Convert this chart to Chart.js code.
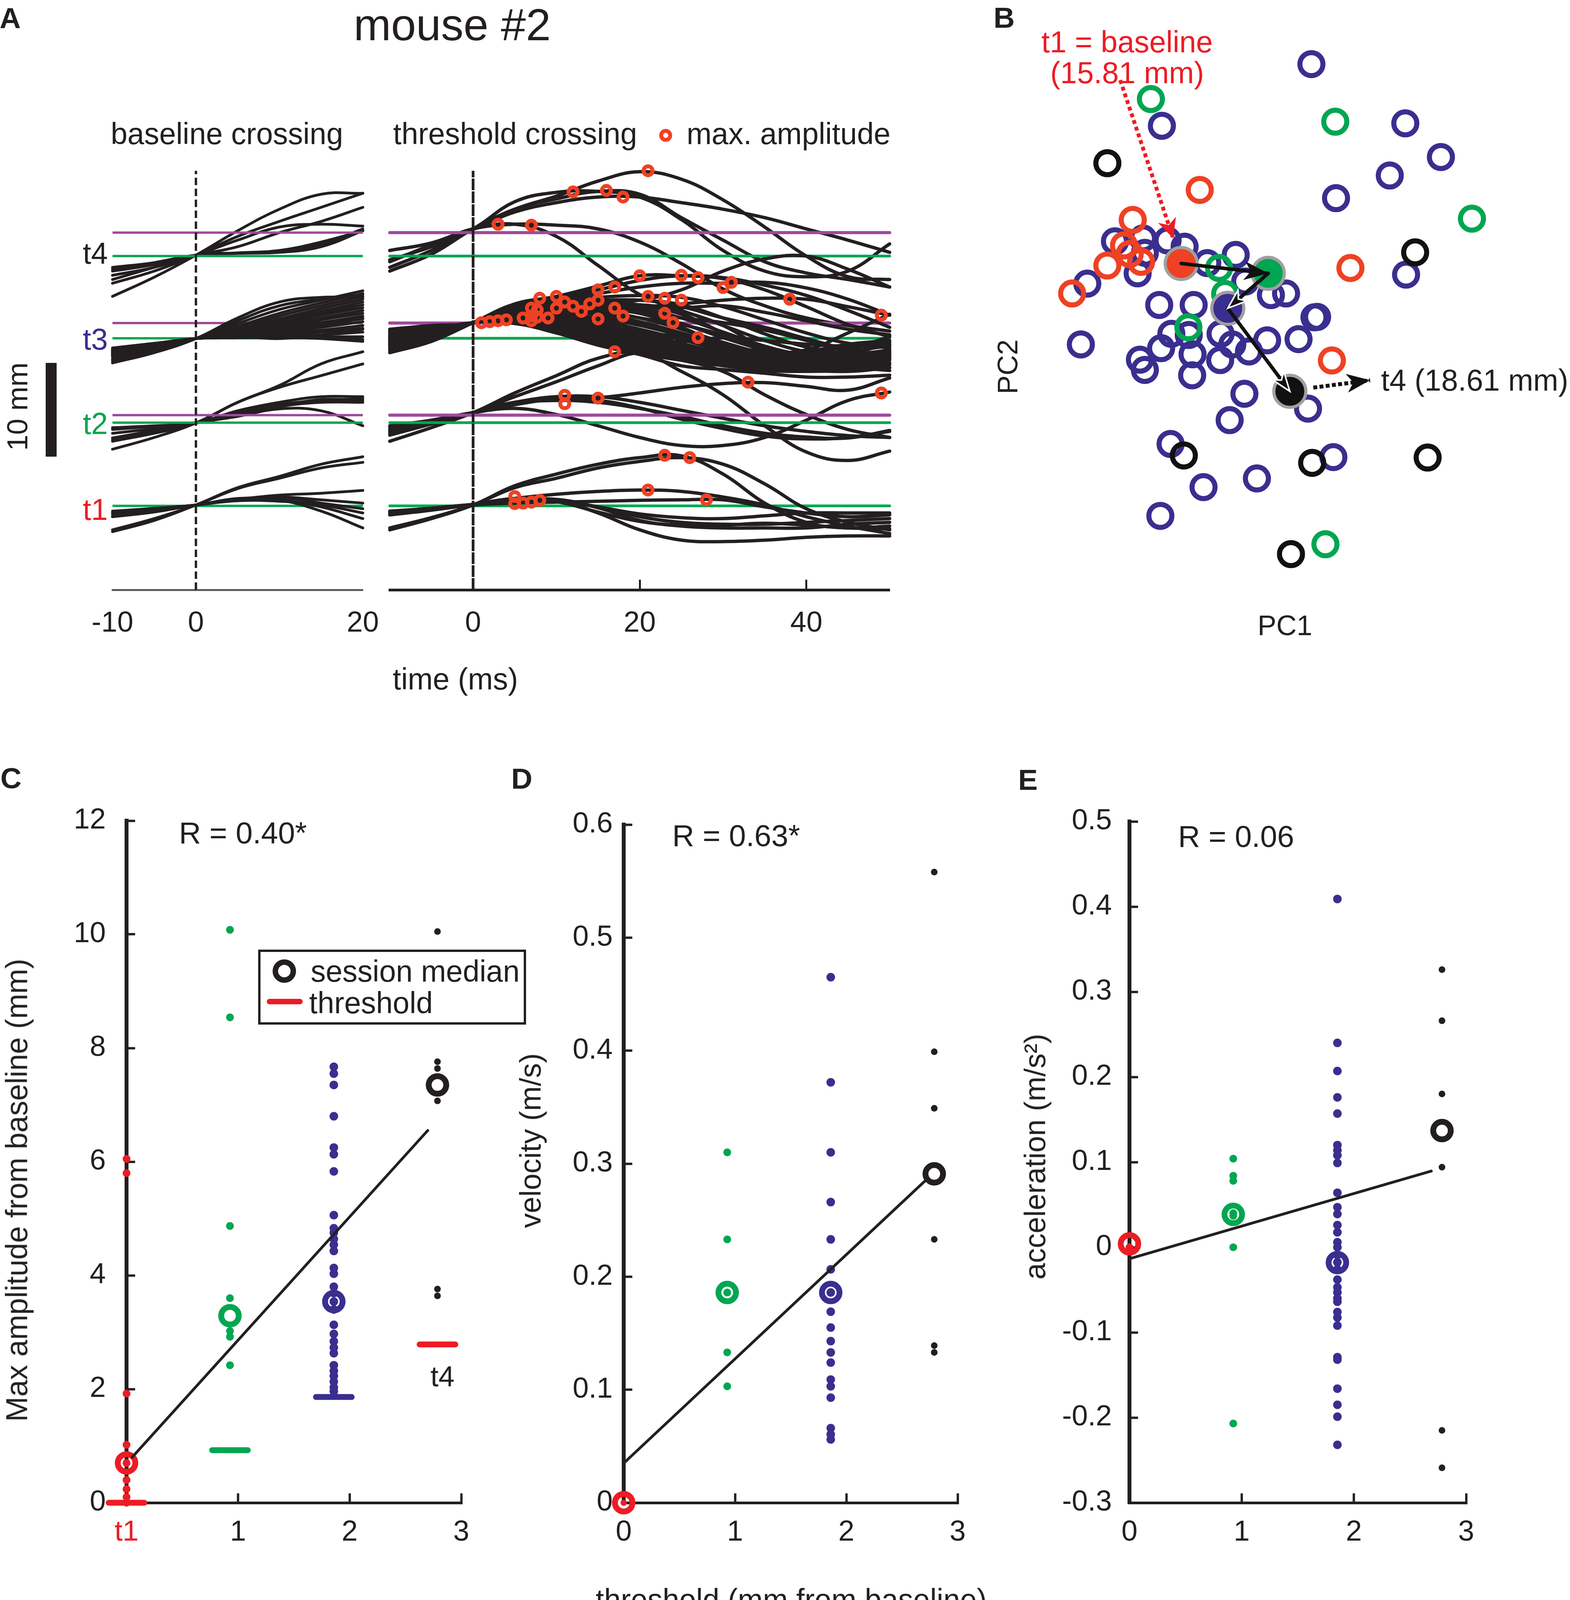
<!DOCTYPE html>
<html><head><meta charset="utf-8">
<script src="https://cdn.jsdelivr.net/npm/chart.js@4"></script>
<style>
html,body{margin:0;padding:0;background:#fff}
#page{position:relative;width:4020px;height:4148px;overflow:hidden;background:#fff;font-family:"Liberation Sans",Arial,sans-serif;color:#231f20}
canvas{position:absolute}
.t{position:absolute;white-space:pre;transform:translate(-50%,-50%);line-height:1;z-index:5}
.r{transform:translate(-50%,-50%) rotate(-90deg)}
</style></head><body><div id="page"></div>
<script>
const BLACK='#231f20',RED='#ed1c24',ORANGE='#ef4123',GREEN='#00a651',BLUE='#3a2e8f',PURPLE='#9e4a9b',GREY='#a0a0a0';

// ---------- Panel A: sampling times (ms) ----------
const knotsLeft=[-10,-5,0,5,10,15,20];
const knotsRight=[-10,-5,0,5,10,15,20,25,30,35,40,45,50];
// reference levels (mm above the lower axis)
const greenLevels=[8.96,17.83,26.83,35.6];
const purpleLevels=[18.64,28.46,38.1];
// baseline-crossing traces (mm)
const t4Left=[
[31.3,33.35,35.7,38.3,40.6,42.2,42.3],
[32.7,34.0,35.7,37.7,39.3,40.8,42.3],
[33.55,34.4,35.7,37.3,38.7,39.0,38.8],
[34.0,34.7,35.7,36.6,38.1,39.3,40.8],
[34.4,34.9,35.7,35.9,36.1,36.85,38.5],
[34.2,34.9,35.7,35.9,36.0,36.6,38.3],
[33.1,34.4,35.7,35.95,36.2,37.1,38.3]];
const t3Left=[
[24.2,25.3,26.8,29.0,30.7,31.2,31.2],
[24.5,25.5,26.8,28.7,30.3,31.0,31.5],
[24.6,25.6,26.8,28.4,29.9,30.9,31.9],
[24.9,25.7,26.8,28.1,29.5,30.6,31.6],
[25.0,25.8,26.8,27.9,29.2,30.3,31.3],
[25.0,25.9,26.8,27.7,28.9,30.0,31.0],
[25.2,25.9,26.8,27.6,28.7,29.7,30.7],
[24.7,25.7,26.8,27.5,28.5,29.5,30.4],
[25.3,26.0,26.8,27.4,28.3,29.3,30.1],
[25.1,26.0,26.8,27.3,28.1,29.0,29.8],
[25.4,26.1,26.8,27.2,27.9,28.8,29.5],
[25.2,26.0,26.8,27.2,27.8,28.5,29.2],
[25.5,26.1,26.8,27.1,27.6,28.3,28.9],
[25.3,26.0,26.8,27.1,27.5,28.0,28.6],
[25.6,26.2,26.8,27.0,27.3,27.7,28.2],
[25.4,26.1,26.8,27.0,27.2,27.5,27.9],
[25.7,26.2,26.8,27.0,27.1,27.2,27.5],
[25.5,26.1,26.8,26.9,27.0,27.0,27.0],
[25.8,26.3,26.8,26.9,27.0,26.9,26.7],
[25.6,26.2,26.8,26.9,26.9,26.8,26.5],
[24.4,25.4,26.8,27.2,27.5,28.1,29.0],
[25.0,25.8,26.8,27.0,26.8,27.2,27.8]];
const t2Left=[
[15.0,16.25,17.8,20.0,21.8,24.1,25.4],
[15.85,16.7,17.8,20.0,21.6,22.85,24.1],
[17.3,17.5,17.8,19.1,20.0,20.6,20.6],
[17.1,17.45,17.8,18.9,19.75,20.2,20.4],
[16.7,17.2,17.8,18.7,19.55,20.0,20.0],
[16.0,16.9,17.8,18.5,19.3,19.1,17.5],
[16.2,17.0,17.8,18.8,19.6,20.3,20.2]];
const t1Left=[
[6.2,7.4,9.05,10.9,12.1,13.4,14.2],
[6.4,7.6,9.05,10.8,11.9,13.0,13.6],
[7.8,8.4,9.05,9.65,10.1,10.3,10.6],
[8.2,8.65,9.05,9.65,9.9,9.6,9.25],
[8.0,8.5,9.05,9.65,9.9,9.25,8.65],
[8.4,8.7,9.05,9.75,9.65,8.85,7.6],
[7.8,8.3,9.05,9.55,9.55,8.4,6.6],
[8.2,8.6,9.05,9.5,9.45,9.05,8.2]];
// threshold-crossing traces (mm)
const t4Right=[
[34.0,35.8,38.5,40.6,42.0,43.6,44.6,43.8,41.6,38.7,35.6,33.4,33.1],
[35.2,36.6,38.5,41.4,42.4,42.5,41.9,39.5,36.2,34.0,33.4,34.0,36.9],
[34.4,36.2,38.5,40.6,41.7,42.5,42.2,39.7,37.3,35.0,33.8,33.1,32.3],
[36.2,37.0,38.5,40.3,41.3,41.9,41.9,41.3,40.6,39.7,38.5,37.3,36.0],
[35.0,36.8,38.5,39.0,37.7,34.6,31.5,29.8,28.2,25.7,24.1,23.7,23.7],
[36.2,37.0,38.5,39.0,38.9,38.5,37.1,34.8,32.1,30.3,29.0,28.2,27.6]];
const t3Right=[
[25.3,26.5,28.5,30.5,31.3,32.4,33.5,33.5,33.2,32.0,30.2,28.3,27.0],
[25.6,26.8,28.5,30.4,31.2,32.0,33.0,33.5,33.3,32.5,31.4,29.8,28.0],
[27.8,28.2,28.5,30.3,31.0,31.6,32.3,32.7,32.7,32.8,32.2,31.0,29.3],
[26.0,27.0,28.5,30.2,30.8,30.6,30.9,32.0,34.0,35.3,35.6,34.2,32.3],
[26.2,27.2,28.5,30.1,30.6,30.4,30.2,30.5,30.9,31.1,31.0,30.2,29.3],
[27.6,28.1,28.5,30.0,30.8,31.2,31.4,31.2,30.2,28.8,27.4,26.3,25.8],
[27.4,28.0,28.5,30.2,30.9,30.9,30.9,30.4,29.0,27.3,25.9,25.2,25.1],
[26.4,27.3,28.5,29.9,30.3,30.5,30.4,29.7,28.2,26.6,25.4,24.9,25.0],
[26.6,27.5,28.5,29.8,30.2,30.3,30.0,29.0,27.5,26.0,25.0,24.6,24.8],
[27.2,27.9,28.5,29.7,30.0,30.0,29.5,28.4,26.9,25.6,24.8,24.6,25.3],
[26.8,27.6,28.5,29.6,29.8,29.7,29.0,27.8,26.4,25.2,24.5,24.5,25.0],
[27.0,27.8,28.5,29.5,29.6,29.4,28.6,27.4,26.1,25.0,24.4,24.4,24.9],
[26.3,27.3,28.5,29.4,29.4,29.0,28.2,27.1,25.8,24.8,24.3,24.6,25.5],
[26.5,27.4,28.5,29.3,29.2,28.7,27.8,26.7,25.5,24.7,24.5,25.2,26.2],
[26.7,27.5,28.5,29.2,29.0,28.4,27.4,26.3,25.2,24.6,24.6,25.0,25.6],
[26.1,27.1,28.5,29.1,28.8,28.1,27.1,26.0,25.0,24.4,24.3,24.6,25.2],
[26.9,27.7,28.5,29.0,28.6,27.8,26.8,25.7,24.8,24.2,24.1,24.3,24.8],
[26.2,27.2,28.5,28.9,28.4,27.5,26.5,25.4,24.6,24.0,23.9,24.1,24.5],
[27.1,27.8,28.5,28.8,28.2,27.2,26.2,25.1,24.3,23.8,23.7,23.9,24.2],
[26.4,27.3,28.5,28.7,28.0,27.0,25.9,24.9,24.1,23.6,23.5,23.7,24.0],
[26.6,27.5,28.5,28.6,27.8,26.7,25.6,24.6,23.9,23.4,23.3,23.4,23.7],
[25.9,27.0,28.5,28.4,27.4,26.1,25.1,23.9,23.5,23.1,22.7,22.7,22.9],
[27.3,27.9,28.5,30.1,30.5,30.6,30.3,29.4,27.4,25.4,24.6,25.6,27.0],
[27.5,28.0,28.5,29.9,30.3,30.0,29.5,28.0,26.2,25.4,25.6,27.4,29.4],
[26.0,27.0,28.5,29.7,30.0,29.3,28.4,27.0,25.8,25.1,25.4,26.2,26.6],
[26.3,27.2,28.5,29.5,29.5,28.5,27.0,25.6,24.4,24.6,25.2,25.9,26.4],
[27.0,27.7,28.5,29.3,29.0,27.9,26.7,26.5,26.9,26.6,26.2,26.0,26.2],
[26.7,27.6,28.5,29.1,28.7,27.9,27.2,26.8,26.0,25.2,25.0,25.5,26.0],
[25.5,26.7,28.5,29.8,30.1,30.6,30.9,30.2,29.0,28.0,26.8,25.6,24.6],
[25.7,26.9,28.5,30.3,30.9,30.6,30.4,30.1,30.3,29.6,28.7,27.8,27.2],
[27.7,28.1,28.5,30.4,30.8,30.4,29.7,29.0,28.5,27.7,26.6,25.4,24.2],
[26.1,27.1,28.5,30.0,30.4,29.8,29.0,28.3,27.2,25.9,24.7,23.8,23.4],
[26.5,27.4,28.5,29.4,29.0,28.2,27.6,26.9,26.2,24.8,23.6,23.3,23.7],
[26.9,27.6,28.5,28.9,28.2,27.4,26.2,25.3,24.9,24.7,24.9,25.2,25.4],
[26.2,27.2,28.5,28.5,27.6,26.4,25.3,24.5,24.2,24.3,24.6,25.0,25.2],
[27.2,27.8,28.5,29.0,28.4,27.3,26.0,24.9,24.4,24.0,24.0,24.4,24.6]];
const t2Right=[
[15.85,17.3,18.9,21.0,22.85,24.7,25.3,23.3,20.8,17.5,14.7,13.8,14.8],
[16.5,17.7,18.9,20.6,22.2,23.9,25.3,24.5,23.3,20.8,18.7,17.1,16.25],
[17.3,18.0,18.9,19.75,20.4,20.5,21.0,21.6,22.0,22.1,21.7,21.3,22.6],
[17.1,17.8,18.9,20.0,20.6,20.6,20.0,19.15,18.3,17.5,16.9,16.45,16.25],
[16.7,17.7,18.9,19.9,20.2,20.0,19.35,18.5,17.5,16.7,16.3,16.2,17.0],
[17.5,18.1,18.9,19.35,18.7,17.5,16.25,15.4,15.4,16.25,18.1,20.2,21.1],
[16.9,17.7,18.9,20.0,20.3,20.2,19.4,18.2,17.2,16.4,16.1,16.25,16.9]];
const t1Right=[
[6.4,7.6,9.05,11.1,12.35,13.4,14.1,14.3,12.35,9.25,7.2,6.6,6.8],
[6.6,7.7,9.05,10.9,11.9,13.0,13.7,14.1,13.4,11.3,8.65,7.2,6.4],
[8.2,8.65,9.1,9.75,10.2,10.5,10.65,10.5,9.9,9.05,7.8,6.8,6.0],
[8.0,8.6,9.05,9.25,9.35,9.45,9.55,9.6,9.6,8.85,8.2,7.8,8.0],
[8.0,8.5,9.1,9.75,9.55,8.2,6.4,5.3,5.15,5.3,5.6,5.75,5.75],
[8.35,8.7,9.1,9.35,9.45,8.85,7.8,7.2,7.0,7.0,7.2,7.4,7.6],
[8.4,8.7,9.1,9.45,9.65,8.75,7.4,6.8,6.6,6.6,6.6,7.0,7.2],
[8.1,8.6,9.1,9.55,9.55,8.85,8.1,7.7,7.6,7.9,8.2,8.2,8.2],
[8.3,8.7,9.1,9.6,9.4,8.3,7.3,6.9,6.9,7.1,6.9,6.6,6.5]];
// maximum-amplitude markers [time ms, mm]
const maxAmplitude=[
[3,39],[7,38.9],[12,42.45],[16,42.6],[18,41.9],[21,44.7],
[1,28.5],[2,28.6],[3,28.7],[4,28.8],[6,29],[7,30.05],[7,29.2],[7,28.7],[7.7,29.85],[7.7,29.1],[8,31.1],[9,29],
[10,31.3],[10,30.05],[11,30.7],[12,30.25],[13,29.7],[14,30.5],[15,32],[15,30.9],[15,28.9],[17,32.3],[17,30.05],[17,25.4],
[18,29.2],[20,33.5],[21,31.3],[23,31.1],[23,29.5],[24,28.5],[25,33.55],[25,30.9],[27,33.3],[27,26.9],[30,32.25],[31,32.8],[38,31],[49,29.3],
[11,20.75],[11,19.85],[15,20.45],[33,22.15],[49,21],
[5,9.95],[5,9.2],[6,9.25],[7,9.35],[8,9.55],[21,10.65],[23,14.35],[26,14.1],[28,9.6]];
const axisTopMm=44.7;

// ---------- Panel B: session positions [PC1, PC2] (arbitrary units, PC2 reversed) ----------
const pcaBlue=[[8.85,1.56],[4.9,3.06],[11.33,3.0],[12.27,3.82],[10.92,4.27],[9.5,4.82],[11.35,6.68],[3.66,5.87],[4.4,5.8],[5.05,5.85],[5.5,6.0],[4.45,6.15],[6.1,6.4],[6.85,6.2],[4.26,6.65],[2.93,6.9],[7.1,6.85],[7.78,7.18],[8.18,7.14],[4.83,7.42],[5.74,7.42],[8.93,7.72],[9.0,7.71],[2.76,8.38],[5.15,8.12],[5.61,8.15],[6.45,8.12],[6.76,8.38],[7.68,8.28],[8.51,8.25],[4.88,8.47],[4.32,8.75],[4.45,9.0],[5.71,8.62],[6.44,8.76],[7.2,8.55],[5.7,9.13],[7.08,9.58],[8.76,9.94],[6.69,10.22],[5.13,10.8],[9.43,11.12],[7.41,11.64],[6.0,11.85],[4.86,12.55]];
const pcaGreen=[[4.61,2.41],[9.48,2.96],[13.09,5.32],[6.41,6.52],[6.57,7.15],[5.6,7.96],[9.22,13.24]];
const pcaOrange=[[5.9,4.62],[4.13,5.35],[9.88,6.52],[3.9,5.97],[4.05,6.18],[4.35,6.37],[3.46,6.46],[2.53,7.14],[9.39,8.77]];
const pcaBlack=[[3.46,3.97],[11.59,6.14],[5.48,11.08],[8.87,11.26],[11.92,11.13],[8.31,13.48]];
const pcaMeans=[[5.41,6.41],[7.71,6.65],[6.64,7.5],[8.28,9.52]];
const pcaMeanColors=[ORANGE,GREEN,BLUE,'#111111'];
const arrowToBaseline=[[3.8,1.95],[5.2,5.8]];
const arrowToT4=[[8.9,9.43],[10.4,9.25]];

// ---------- Panels C, D, E ----------
const xT2C=0.927,xT3C=1.858,xT4C=2.787;
const cRed=[6.05,5.8,1.92,1.02,0.7,0.4,0.24,0.1,0];
const cGreen=[10.08,8.54,4.87,3.6,3.02,2.92,2.42];
const cBlue=[7.67,7.55,7.35,6.8,6.25,6.13,5.83,5.06,4.83,4.75,4.64,4.54,4.43,4.13,4.03,3.8,3.69,3.54,3.4,3.13,2.97,2.84,2.73,2.63,2.42,2.32,2.23,2.13,2.03,1.96];
const cBlack=[10.05,7.76,7.64,7.07,3.76,3.64];
const cMedians=[[0,0.7],[xT2C,3.29],[xT3C,3.54],[xT4C,7.35]];
const cThresholds=[[0,0],[xT2C,0.925],[xT3C,1.86],[xT4C,2.785]];
const cFit=[[0.05,0.8],[2.7,6.55]];
const dGreen=[0.31,0.233,0.186,0.133,0.103];
const dBlue=[0.465,0.372,0.31,0.266,0.233,0.2065,0.186,0.169,0.155,0.143,0.133,0.124,0.109,0.103,0.093,0.066,0.0605,0.056];
const dBlack=[0.558,0.399,0.349,0.233,0.139,0.133];
const dRed=[0];
const dMedians=[[0,0],[0.93,0.186],[1.86,0.186],[2.79,0.291]];
const dFit=[[0,0.035],[2.71,0.285]];
const eRed=[0];
const eGreen=[0.104,0.084,0.078,0.04,0.037,0,-0.207];
const eBlue=[0.409,0.24,0.207,0.176,0.157,0.12,0.114,0.108,0.099,0.064,0.047,0.039,0.026,0.0176,0.006,0,-0.009,-0.0176,-0.026,-0.038,-0.047,-0.053,-0.06,-0.064,-0.076,-0.0825,-0.092,-0.129,-0.132,-0.166,-0.185,-0.199,-0.232];
const eBlack=[0.326,0.266,0.18,0.094,-0.215,-0.259];
const eMedians=[[0,0.004],[0.925,0.0386],[1.853,-0.018],[2.785,0.137]];
const eFit=[[0,-0.0135],[2.69,0.0895]];
const seriesColors=[RED,GREEN,BLUE,BLACK];

// ---------- helpers ----------
const page=document.getElementById('page');
function txt(s,cx,cy,size,o={}){const d=document.createElement('div');d.className='t'+(o.rot?' r':'');d.textContent=s;
 d.style.left=cx+'px';d.style.top=cy+'px';d.style.fontSize=size+'px';if(o.color)d.style.color=o.color;if(o.bold)d.style.fontWeight='bold';if(o.ls)d.style.letterSpacing=o.ls+'px';page.appendChild(d);return d;}
function box(l,t,w,h,css){const d=document.createElement('div');d.style.cssText=`position:absolute;left:${l}px;top:${t}px;width:${w}px;height:${h}px;box-sizing:border-box;z-index:4;${css}`;page.appendChild(d);return d;}
const arrowPlugin={id:'arrowHeads',afterDatasetsDraw(chart){const c=chart.ctx;
 chart.data.datasets.forEach((ds,i)=>{if(!ds.arrowHead)return;const pts=chart.getDatasetMeta(i).data;const a=pts[pts.length-2],b=pts[pts.length-1];
  const ang=Math.atan2(b.y-a.y,b.x-a.x),{len,w,stroke}=ds.arrowHead;
  c.save();c.translate(b.x,b.y);c.rotate(ang);c.beginPath();c.moveTo(0,0);c.lineTo(-len,-w);c.lineTo(-len*0.72,0);c.lineTo(-len,w);c.closePath();
  c.fillStyle=ds.borderColor;c.fill();if(stroke){c.strokeStyle=stroke;c.lineWidth=4;c.stroke();}c.restore();});}};
function make(area,m,datasets,scales,plugins=[]){
 const cv=document.createElement('canvas');const w=area.r-area.l+m.l+m.r,h=area.b-area.t+m.t+m.b;
 cv.width=w;cv.height=h;cv.style.left=(area.l-m.l)+'px';cv.style.top=(area.t-m.t)+'px';cv.style.width=w+'px';cv.style.height=h+'px';page.appendChild(cv);
 const xShown=scales.x.display!==false,yShown=scales.y.display!==false;
 if(xShown)scales.x.afterFit=s=>{s.height=m.b;s.paddingLeft=s.paddingRight=0};
 if(yShown)scales.y.afterFit=s=>{s.width=m.l;s.paddingTop=s.paddingBottom=0};
 return new Chart(cv.getContext('2d'),{type:'scatter',data:{datasets},plugins,options:{responsive:false,animation:false,devicePixelRatio:1,
  layout:{autoPadding:false,padding:{left:yShown?0:m.l,right:m.r,top:m.t,bottom:xShown?0:m.b}},
  plugins:{legend:{display:false},tooltip:{enabled:false},title:{display:false}},scales}});
}
const FONT=74;
const curve=(knots,vals,width,order)=>({data:knots.map((x,i)=>({x,y:vals[i]})),showLine:true,tension:0.4,borderColor:BLACK,borderWidth:width,pointRadius:0,clip:false,order,borderCapStyle:'round',borderJoinStyle:'round'});
const seg=(pairs,color,width,order,extra={})=>Object.assign({data:pairs.map(p=>({x:p[0],y:p[1]})),showLine:true,tension:0,borderColor:color,borderWidth:width,pointRadius:0,clip:false,order,borderCapStyle:'round'},extra);
const dots=(x,vals,color,r,order)=>({data:vals.map(y=>({x,y})),showLine:false,pointRadius:r,pointBackgroundColor:color,pointBorderWidth:0,clip:false,order});
const rings=(pairs,color,r,bw,order)=>({data:pairs.map(p=>({x:p[0],y:p[1]})),showLine:false,pointRadius:r,pointBackgroundColor:'rgba(0,0,0,0)',pointBorderColor:color,pointBorderWidth:bw,clip:false,order});

// ---------- Panel A charts ----------
function traces(knots,w,rows){const out=[];
 rows.forEach(([list,order])=>list.forEach(v=>out.push(curve(knots,v,w,order))));return out;}
const leftTicks=[-10,0,20],rightTicks=[0,20,40];
const aLeftDs=[
 ...traces(knotsLeft,7,[[t4Left,3],[t3Left,1],[t2Left,3],[t1Left,1]]),
 ...greenLevels.map(v=>seg([[-10,v],[20,v]],GREEN,6,2,{borderCapStyle:'butt'})),
 ...purpleLevels.map(v=>seg([[-10,v],[20,v]],PURPLE,6,2,{borderCapStyle:'butt'})),
 seg([[0,0],[0,axisTopMm]],BLACK,6,0,{borderDash:[19,9],borderCapStyle:'butt'})];
make({l:288,r:929,t:400,b:1510},{l:150,r:100,t:20,b:140},aLeftDs,{
 x:{type:'linear',min:-10,max:20,afterBuildTicks:s=>{s.ticks=leftTicks.map(value=>({value}))},
  grid:{drawOnChartArea:false,drawTicks:false},border:{display:true,width:5,color:'#5a5a5a'},
  ticks:{padding:42,color:BLACK,font:{family:'Liberation Sans',size:FONT},autoSkip:false,maxRotation:0,callback:v=>String(v)}},
 y:{type:'linear',min:0,max:46.25,display:false}});
const aRightDs=[
 rings(maxAmplitude,ORANGE,11.5,10,0),
 seg([[0,0],[0,axisTopMm]],BLACK,7,1,{borderDash:[30,3],borderCapStyle:'butt'}),
 ...traces(knotsRight,8.5,[[t4Right,4],[t3Right,2],[t2Right,4],[t1Right,2]]),
 ...greenLevels.map(v=>seg([[-10,v],[50,v]],GREEN,7,3)),
 ...purpleLevels.map(v=>seg([[-10,v],[50,v]],PURPLE,8,3))];
make({l:998,r:2278,t:400,b:1510},{l:60,r:60,t:20,b:140},aRightDs,{
 x:{type:'linear',min:-10,max:50,afterBuildTicks:s=>{s.ticks=rightTicks.map(value=>({value}))},
  grid:{drawOnChartArea:false,tickLength:-26,tickWidth:5,tickColor:BLACK},border:{display:true,width:7,color:BLACK},
  ticks:{padding:68,color:BLACK,font:{family:'Liberation Sans',size:FONT},autoSkip:false,maxRotation:0,callback:v=>String(v)}},
 y:{type:'linear',min:0,max:46.25,display:false}});

// ---------- Panel B chart ----------
const bDs=[
 seg(pcaMeans.slice(0,2),'#111111',9,0,{arrowHead:{len:62,w:24}}),
 seg(pcaMeans.slice(1,3),'#111111',9,0,{arrowHead:{len:50,w:18,stroke:'#ffffff'}}),
 seg(pcaMeans.slice(2,4),'#111111',9,0,{arrowHead:{len:50,w:18,stroke:'#ffffff'}}),
 seg(arrowToBaseline,RED,10,0,{borderDash:[10,8],borderCapStyle:'butt',arrowHead:{len:50,w:24}}),
 seg(arrowToT4,'#111111',10,0,{borderDash:[10,6],borderCapStyle:'butt',arrowHead:{len:60,w:24}}),
 {data:pcaMeans.map(p=>({x:p[0],y:p[1]})),showLine:false,pointRadius:41,pointBackgroundColor:pcaMeanColors,pointBorderColor:GREY,pointBorderWidth:8,clip:false,order:1},
 rings(pcaBlack,'#111111',29.5,13,2),rings(pcaOrange,ORANGE,29.5,13,2),rings(pcaGreen,GREEN,29.5,13,3),rings(pcaBlue,BLUE,29.5,13,4)];
make({l:2500,r:4020,t:0,b:1650},{l:0,r:0,t:0,b:0},bDs,{
 x:{type:'linear',min:0,max:15.68,display:false},
 y:{type:'linear',min:0,max:15.68,reverse:true,display:false}},[arrowPlugin]);

// ---------- Panels C, D, E charts ----------
function bottomScales(yOpt,xLabel,yPad){
 const fmt=yOpt.format||(v=>String(v));
 return {
 x:{type:'linear',min:0,max:3,afterBuildTicks:s=>{s.ticks=[0,1,2,3].map(value=>({value}))},
  grid:{drawOnChartArea:false,tickLength:-24,tickWidth:6,tickColor:BLACK},border:{display:true,width:7,color:BLACK},
  ticks:{padding:56,color:c=>c.tick&&c.tick.value===0&&xLabel?RED:BLACK,font:{family:'Liberation Sans',size:FONT},autoSkip:false,maxRotation:0,callback:v=>(v===0&&xLabel)?xLabel:String(v)}},
 y:{type:'linear',min:yOpt.min,max:yOpt.max,ticks:{stepSize:yOpt.step,padding:yPad,color:BLACK,font:{family:'Liberation Sans',size:FONT},autoSkip:false,callback:fmt},
  grid:{drawOnChartArea:false,tickLength:-22,tickWidth:6,tickColor:BLACK},border:{display:true,width:10,color:BLACK}}};
}
const fmt1=v=>Math.abs(v)<1e-9?'0':v.toFixed(1);
make({l:324,r:1181,t:2101,b:3847},{l:290,r:80,t:60,b:150},[
 seg(cFit,BLACK,7,0),
 ...cThresholds.map((p,i)=>seg([[p[0]-0.16,p[1]],[p[0]+0.16,p[1]]],i===3?RED:seriesColors[i],15,1)),
 ...cMedians.map((p,i)=>rings([p],seriesColors[i],22.5,15,2)),
 dots(0,cRed,RED,10,3),dots(xT2C,cGreen,GREEN,10,3),dots(xT3C,cBlue,BLUE,11,3),dots(xT4C,cBlack,BLACK,8.5,3)],
 bottomScales({min:0,max:12,step:2},'t1',75));
make({l:1597,r:2452,t:2111,b:3847},{l:210,r:80,t:60,b:150},[
 seg(dFit,BLACK,7,0),
 ...dMedians.map((p,i)=>rings([p],seriesColors[i],22.5,15,2)),
 dots(0,dRed,RED,8,3),dots(0.93,dGreen,GREEN,10,3),dots(1.86,dBlue,BLUE,11,3),dots(2.79,dBlack,BLACK,8.5,3)],
 bottomScales({min:0,max:0.6,step:0.1,format:fmt1},null,50));
make({l:2892,r:3754,t:2103,b:3847},{l:230,r:80,t:60,b:150},[
 seg(eFit,BLACK,7,0),
 ...eMedians.map((p,i)=>rings([p],seriesColors[i],22.5,15,2)),
 dots(0,eRed,RED,10,3),dots(0.925,eGreen,GREEN,10,3),dots(1.853,eBlue,BLUE,11,3),dots(2.785,eBlack,BLACK,8.5,3)],
 bottomScales({min:-0.3,max:0.5,step:0.1,format:fmt1},null,67));

// ---------- Text and annotations ----------
txt('A',26,46,75,{bold:true});txt('B',2571,45,75,{bold:true});txt('C',28,1992,75,{bold:true});txt('D',1336,1993,75,{bold:true});txt('E',2632,1996,75,{bold:true});
txt('mouse #2',1158,63,115);
txt('baseline crossing',581,342,77);txt('threshold crossing',1319,342,77);txt('max. amplitude',2019,342,77);
box(1688,330,33,33,`border:10px solid ${ORANGE};border-radius:50%`);
txt('time (ms)',1166,1738,77);
txt('t4',244,648,77);txt('t3',244,868,77,{color:BLUE});txt('t2',244,1084,77,{color:GREEN});txt('t1',244,1304,77,{color:RED});
box(117,929,28,240,`background:${BLACK}`);
txt('10 mm',45,1041,74,{rot:true});
txt('t1 = baseline',2886,107,77,{color:RED});txt('(15.81 mm)',2886,186,77,{color:RED});
txt('t4 (18.61 mm)',3776,973,77);
txt('PC1',3290,1601,72);txt('PC2',2580,939,72,{rot:true});
txt('R = 0.40*',622,2132,78);txt('R = 0.63*',1885,2139,78);txt('R = 0.06',3165,2141,78);
txt('t4',1133,3524,74);
txt('Max amplitude from baseline (mm)',43,3047,77,{rot:true});
txt('velocity (m/s)',1358,2920,76,{rot:true});
txt('acceleration (m/s²)',2650,2961,76,{rot:true});
txt('threshold (mm from baseline)',2026,4095,77);
box(661,2431,686,192,`border:6px solid ${BLACK};background:#fff`);
box(698,2456,60,60,`border:14px solid ${BLACK};border-radius:50%`);
box(683,2557,92,14,`background:${RED};border-radius:7px`);
txt('session median',1063,2486,77);txt('threshold',950,2567,77);
</script></body></html>
